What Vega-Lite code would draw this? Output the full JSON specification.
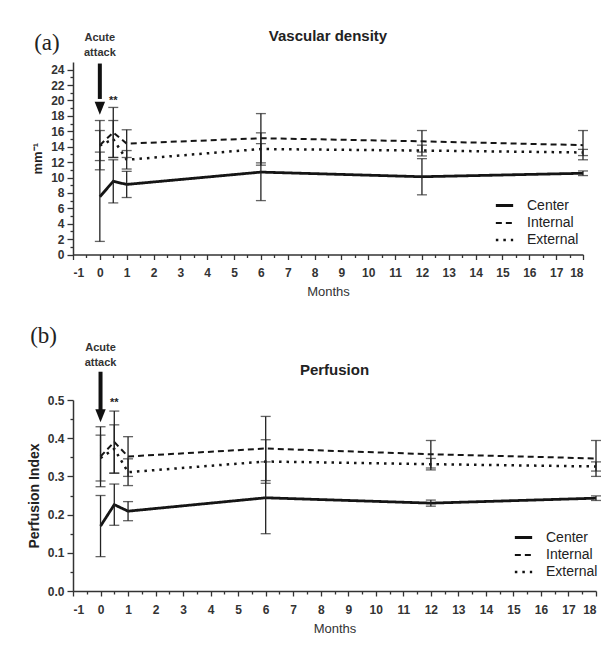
{
  "$schema": "https://vega.github.io/schema/vega-lite/v6.json",
  "padding": {"left": 27, "top": 29, "right": 5, "bottom": 5},
  "spacing": 26,
  "background": "white",
  "resolve": {"legend": {"strokeDash": "independent", "strokeWidth": "independent"}},
  "vconcat": [
    {
      "width": 510,
      "height": 192.5,
      "title": {"text": "Vascular density", "frame": "group", "anchor": "middle", "offset": -12.5, "fontSize": 15},
      "encoding": {
        "x": {"field": "x", "type": "quantitative", "scale": {"domain": [-1, 18], "nice": false},
          "axis": {"title": "Months", "labelOverlap": false, "values": [-1,-0.5,0,0.5,1,1.5,2,2.5,3,3.5,4,4.5,5,5.5,6,6.5,7,7.5,8,8.5,9,9.5,10,10.5,11,11.5,12,12.5,13,13.5,14,14.5,15,15.5,16,16.5,17,17.5,18],
            "labelExpr": "datum.value % 1 === 0 ? '' + datum.value : ''",
            "tickSize": {"condition": {"test": "datum.value % 1 === 0", "value": 5}, "value": 3}}},
        "y": {"field": "y", "type": "quantitative", "scale": {"domain": [0, 25], "nice": false},
          "axis": {"title": "mm⁻¹", "titleFontSize": 13, "labelOverlap": false, "values": [0,1,2,3,4,5,6,7,8,9,10,11,12,13,14,15,16,17,18,19,20,21,22,23,24],
            "labelExpr": "datum.value % 2 === 0 ? '' + datum.value : ''",
            "tickSize": {"condition": {"test": "datum.value % 2 === 0", "value": 6}, "value": 3}}}
      },
      "layer": [
        {
          "data": {"values": [
            {"x": 0, "series": "Center", "y": 7.5, "lo": 1.7, "hi": 13.3},
            {"x": 0.5, "series": "Center", "y": 9.5, "lo": 6.7, "hi": 12.3},
            {"x": 1, "series": "Center", "y": 9.1, "lo": 7.4, "hi": 10.8},
            {"x": 6, "series": "Center", "y": 10.7, "lo": 7.0, "hi": 14.4},
            {"x": 12, "series": "Center", "y": 10.1, "lo": 7.75, "hi": 12.45},
            {"x": 18, "series": "Center", "y": 10.55, "lo": 10.25, "hi": 10.85},
            {"x": 0, "series": "Internal", "y": 14.2, "lo": 11.0, "hi": 17.4},
            {"x": 0.5, "series": "Internal", "y": 15.85, "lo": 12.6, "hi": 19.1},
            {"x": 1, "series": "Internal", "y": 14.4, "lo": 12.6, "hi": 16.2},
            {"x": 6, "series": "Internal", "y": 15.1, "lo": 11.9, "hi": 18.3},
            {"x": 12, "series": "Internal", "y": 14.7, "lo": 13.3, "hi": 16.1},
            {"x": 18, "series": "Internal", "y": 14.2, "lo": 12.3, "hi": 16.1},
            {"x": 0, "series": "External", "y": 14.15, "lo": 12.2, "hi": 16.1},
            {"x": 0.5, "series": "External", "y": 15.0, "lo": 12.6, "hi": 17.4},
            {"x": 1, "series": "External", "y": 12.3, "lo": 11.1, "hi": 13.5},
            {"x": 6, "series": "External", "y": 13.7, "lo": 11.6, "hi": 15.8},
            {"x": 12, "series": "External", "y": 13.5, "lo": 12.8, "hi": 14.2},
            {"x": 18, "series": "External", "y": 13.25, "lo": 12.85, "hi": 13.65}
          ]},
          "layer": [
            {
              "mark": {"type": "line", "color": "#151515"},
              "encoding": {
                "strokeDash": {"field": "series", "type": "nominal",
                  "scale": {"domain": ["Center", "Internal", "External"], "range": [[1, 0], [6, 4], [2.5, 5]]},
                  "legend": {"orient": "none", "legendX": 421, "legendY": 133}},
                "strokeWidth": {"field": "series", "type": "nominal",
                  "scale": {"type": "ordinal", "domain": ["Center", "Internal", "External"], "range": [2.8, 2, 2.5]},
                  "legend": {"orient": "none", "legendX": 421, "legendY": 133}}
              }
            },
            {
              "mark": {"type": "rule", "color": "#222", "strokeWidth": 1.3},
              "encoding": {"y": {"field": "lo", "type": "quantitative"}, "y2": {"field": "hi"}}
            },
            {
              "mark": {"type": "tick", "orient": "horizontal", "size": 10, "thickness": 1.3, "color": "#222"},
              "encoding": {"y": {"field": "lo", "type": "quantitative"}}
            },
            {
              "mark": {"type": "tick", "orient": "horizontal", "size": 10, "thickness": 1.3, "color": "#222"},
              "encoding": {"y": {"field": "hi", "type": "quantitative"}}
            }
          ]
        },
        {
          "data": {"values": [{"x": -1.97, "y": 27.5, "t": "(a)"}]},
          "mark": {"type": "text", "font": "Liberation Serif", "fontSize": 23, "color": "#222", "align": "center", "baseline": "middle"},
          "encoding": {"text": {"field": "t"}}
        },
        {
          "data": {"values": [{"x": 0, "y": 28.1, "t": "Acute\nattack"}]},
          "mark": {"type": "text", "font": "Liberation Sans Narrow, Liberation Sans", "fontSize": 11, "fontWeight": "bold", "color": "#333", "align": "center", "baseline": "middle", "lineBreak": "\n", "lineHeight": 15},
          "encoding": {"text": {"field": "t"}}
        },
        {
          "data": {"values": [{"x": 0.5, "y": 20.0, "t": "**"}]},
          "mark": {"type": "text", "fontSize": 11, "fontWeight": "bold", "color": "#222", "align": "center", "baseline": "middle"},
          "encoding": {"text": {"field": "t"}}
        },
        {
          "data": {"values": [{"x": 0, "y": 24.8, "y2": 20.2}]},
          "mark": {"type": "rule", "color": "#111", "strokeWidth": 4},
          "encoding": {"y2": {"field": "y2"}}
        },
        {
          "data": {"values": [{"x": 0, "y": 19.0}]},
          "mark": {"type": "point", "shape": "M-0.8,-1L0.8,-1L0,1Z", "filled": true, "size": 169, "color": "#111", "opacity": 1, "strokeWidth": 0},
          "encoding": {}
        }
      ]
    },
    {
      "width": 523,
      "height": 191,
      "title": {"text": "Perfusion", "frame": "group", "anchor": "middle", "offset": -52.5, "fontSize": 15},
      "encoding": {
        "x": {"field": "x", "type": "quantitative", "scale": {"domain": [-1, 18], "nice": false},
          "axis": {"title": "Months", "labelOverlap": false, "values": [-1,-0.5,0,0.5,1,1.5,2,2.5,3,3.5,4,4.5,5,5.5,6,6.5,7,7.5,8,8.5,9,9.5,10,10.5,11,11.5,12,12.5,13,13.5,14,14.5,15,15.5,16,16.5,17,17.5,18],
            "labelExpr": "datum.value % 1 === 0 ? '' + datum.value : ''",
            "tickSize": {"condition": {"test": "datum.value % 1 === 0", "value": 5}, "value": 3}}},
        "y": {"field": "y", "type": "quantitative", "scale": {"domain": [0, 0.5], "nice": false},
          "axis": {"title": "Perfusion Index", "titleFontSize": 14, "labelOverlap": false, "values": [0,0.05,0.1,0.15,0.2,0.25,0.3,0.35,0.4,0.45,0.5],
            "labelExpr": "round(datum.value * 100) % 10 === 0 ? format(datum.value, '.1f') : ''",
            "tickSize": {"condition": {"test": "round(datum.value * 100) % 10 === 0", "value": 6}, "value": 3}}}
      },
      "layer": [
        {
          "data": {"values": [
            {"x": 0, "series": "Center", "y": 0.17, "lo": 0.09, "hi": 0.25},
            {"x": 0.5, "series": "Center", "y": 0.226, "lo": 0.172, "hi": 0.28},
            {"x": 1, "series": "Center", "y": 0.209, "lo": 0.184, "hi": 0.234},
            {"x": 6, "series": "Center", "y": 0.244, "lo": 0.15, "hi": 0.338},
            {"x": 12, "series": "Center", "y": 0.23, "lo": 0.222, "hi": 0.238},
            {"x": 18, "series": "Center", "y": 0.243, "lo": 0.237, "hi": 0.249},
            {"x": 0, "series": "Internal", "y": 0.352, "lo": 0.273, "hi": 0.43},
            {"x": 0.5, "series": "Internal", "y": 0.39, "lo": 0.308, "hi": 0.471},
            {"x": 1, "series": "Internal", "y": 0.352, "lo": 0.3, "hi": 0.404},
            {"x": 6, "series": "Internal", "y": 0.373, "lo": 0.289, "hi": 0.457},
            {"x": 12, "series": "Internal", "y": 0.358, "lo": 0.322, "hi": 0.394},
            {"x": 18, "series": "Internal", "y": 0.347, "lo": 0.3, "hi": 0.394},
            {"x": 0, "series": "External", "y": 0.348, "lo": 0.288, "hi": 0.408},
            {"x": 0.5, "series": "External", "y": 0.372, "lo": 0.309, "hi": 0.435},
            {"x": 1, "series": "External", "y": 0.311, "lo": 0.276, "hi": 0.346},
            {"x": 6, "series": "External", "y": 0.339, "lo": 0.282, "hi": 0.396},
            {"x": 12, "series": "External", "y": 0.332, "lo": 0.317, "hi": 0.347},
            {"x": 18, "series": "External", "y": 0.326, "lo": 0.314, "hi": 0.338}
          ]},
          "layer": [
            {
              "mark": {"type": "line", "color": "#151515"},
              "encoding": {
                "strokeDash": {"field": "series", "type": "nominal",
                  "scale": {"domain": ["Center", "Internal", "External"], "range": [[1, 0], [6, 4], [2.5, 5]]},
                  "legend": {"orient": "none", "legendX": 440, "legendY": 127}},
                "strokeWidth": {"field": "series", "type": "nominal",
                  "scale": {"type": "ordinal", "domain": ["Center", "Internal", "External"], "range": [2.8, 2, 2.5]},
                  "legend": {"orient": "none", "legendX": 440, "legendY": 127}}
              }
            },
            {
              "mark": {"type": "rule", "color": "#222", "strokeWidth": 1.3},
              "encoding": {"y": {"field": "lo", "type": "quantitative"}, "y2": {"field": "hi"}}
            },
            {
              "mark": {"type": "tick", "orient": "horizontal", "size": 10, "thickness": 1.3, "color": "#222"},
              "encoding": {"y": {"field": "lo", "type": "quantitative"}}
            },
            {
              "mark": {"type": "tick", "orient": "horizontal", "size": 10, "thickness": 1.3, "color": "#222"},
              "encoding": {"y": {"field": "hi", "type": "quantitative"}}
            }
          ]
        },
        {
          "data": {"values": [{"x": -2.07, "y": 0.667, "t": "(b)"}]},
          "mark": {"type": "text", "font": "Liberation Serif", "fontSize": 23, "color": "#222", "align": "center", "baseline": "middle"},
          "encoding": {"text": {"field": "t"}}
        },
        {
          "data": {"values": [{"x": 0, "y": 0.637, "t": "Acute\nattack"}]},
          "mark": {"type": "text", "font": "Liberation Sans Narrow, Liberation Sans", "fontSize": 11, "fontWeight": "bold", "color": "#333", "align": "center", "baseline": "middle", "lineBreak": "\n", "lineHeight": 15},
          "encoding": {"text": {"field": "t"}}
        },
        {
          "data": {"values": [{"x": 0.5, "y": 0.493, "t": "**"}]},
          "mark": {"type": "text", "fontSize": 11, "fontWeight": "bold", "color": "#222", "align": "center", "baseline": "middle"},
          "encoding": {"text": {"field": "t"}}
        },
        {
          "data": {"values": [{"x": 0, "y": 0.574, "y2": 0.472}]},
          "mark": {"type": "rule", "color": "#111", "strokeWidth": 4},
          "encoding": {"y2": {"field": "y2"}}
        },
        {
          "data": {"values": [{"x": 0, "y": 0.4586}]},
          "mark": {"type": "point", "shape": "M-0.8,-1L0.8,-1L0,1Z", "filled": true, "size": 169, "color": "#111", "opacity": 1, "strokeWidth": 0},
          "encoding": {}
        }
      ]
    }
  ],
  "config": {
    "view": {"stroke": null},
    "font": "Liberation Sans",
    "title": {"font": "Liberation Sans", "fontWeight": "bold", "color": "#222"},
    "axis": {
      "grid": false,
      "labelOverlap": false,
      "domainColor": "#333", "domainWidth": 1.5,
      "tickColor": "#333", "tickWidth": 1.3,
      "labelFont": "Liberation Sans", "labelFontWeight": "bold", "labelFontSize": 12, "labelColor": "#333", "labelPadding": 3,
      "titleFont": "Liberation Sans", "titleFontWeight": "bold", "titleColor": "#222", "titlePadding": 6
    },
    "axisX": {"titleFontWeight": "normal", "titleFontSize": 13, "titleColor": "#333", "titlePadding": 7, "labelPadding": 8},
    "legend": {
      "title": null, "symbolType": "stroke", "symbolSize": 300, "symbolStrokeColor": "#111",
      "labelFont": "Liberation Sans", "labelFontSize": 14, "labelColor": "#222", "labelOffset": 12,
      "rowPadding": 0, "padding": 0
    }
  }
}
